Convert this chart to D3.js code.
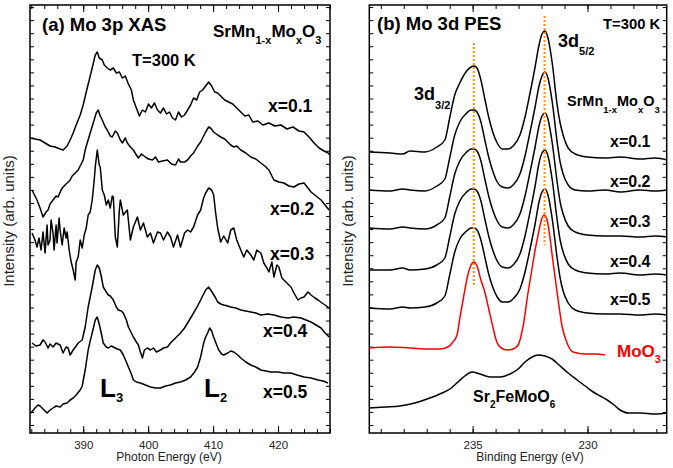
<!DOCTYPE html>
<html>
<head>
<meta charset="utf-8">
<script src="https://cdn.jsdelivr.net/npm/d3@7"></script>
<style>
  html, body { margin: 0; padding: 0; background: #fff; }
  svg { display: block; font-family: "Liberation Sans", Arial, Helvetica, sans-serif; }
</style>
</head>
<body>
<svg id="chart" width="673" height="468"></svg>
<script>
// ---------- (a) Mo 3p XAS: [photon energy (eV), intensity (arb. units)] ----------
const xasX01 = [[381.80,295],[382.57,294],[383.35,293],[384.12,290],[384.89,287],[385.66,286],[386.44,284],[386.90,283],[387.52,287],[387.98,293],[388.45,300],[388.91,308],[389.53,318],[389.99,328],[390.46,341],[390.92,353],[391.38,365],[391.85,378],[392.16,381],[392.46,375],[392.93,373],[393.24,368],[393.70,365],[394.16,363],[394.63,365],[395.09,360],[395.56,361],[396.02,355],[396.48,357],[396.95,349],[397.41,343],[397.72,333],[398.18,325],[398.65,317],[399.11,323],[399.57,321],[400.04,329],[400.50,325],[400.97,330],[401.43,323],[401.89,320],[402.36,325],[402.82,319],[403.28,321],[403.75,315],[404.21,313],[404.67,321],[405.14,316],[405.60,318],[406.07,323],[406.53,328],[406.99,335],[407.46,333],[407.92,341],[408.38,343],[408.85,347],[409.31,351],[409.78,347],[410.24,341],[410.70,340],[411.17,337],[411.78,333],[412.40,331],[413.02,329],[413.64,325],[414.26,321],[414.88,317],[415.49,318],[416.11,311],[416.89,312],[417.66,308],[418.59,310],[419.51,307],[420.44,308],[421.37,304],[422.29,306],[423.22,302],[424.00,301],[424.77,296],[425.54,290],[426.32,285],[427.09,282],[427.70,280],[428.00,278]];

const xasX02 = [[382.11,243],[382.88,233],[383.35,225],[383.81,216],[384.27,221],[384.58,223],[384.89,229],[385.35,233],[385.82,237],[386.13,236],[386.59,243],[386.90,246],[387.36,249],[387.98,253],[388.29,257],[388.76,260],[389.22,263],[389.53,267],[389.99,273],[390.30,283],[390.61,290],[391.07,300],[391.54,310],[392.00,320],[392.31,323],[392.62,317],[392.93,313],[393.39,306],[393.70,303],[394.16,297],[394.47,296],[394.94,302],[395.25,300],[395.71,293],[396.02,290],[396.48,295],[396.79,290],[397.26,286],[397.72,283],[398.18,278],[398.49,275],[398.96,279],[399.57,276],[400.04,274],[400.66,273],[401.12,276],[401.58,271],[402.20,272],[402.97,273],[403.59,269],[404.21,268],[404.67,274],[404.98,271],[405.60,271],[406.07,273],[406.53,277],[406.99,280],[407.61,287],[408.08,291],[408.54,297],[408.85,301],[409.31,306],[409.62,305],[410.08,301],[410.70,298],[411.17,296],[411.78,294],[412.25,291],[412.71,288],[413.18,286],[413.64,287],[414.26,283],[415.03,280],[415.80,276],[416.58,274],[417.35,270],[417.97,267],[418.59,263],[419.05,257],[419.36,253],[420.13,251],[420.90,250],[421.68,247],[422.45,246],[423.22,249],[424.00,250],[424.61,245],[425.08,241],[425.85,237],[426.62,233],[427.24,228],[427.86,223]];

const xasX03 = [[382.11,200],[382.57,193],[382.88,186],[383.19,195],[383.50,183],[383.81,201],[384.12,180],[384.43,208],[384.58,188],[384.89,193],[385.05,213],[385.35,200],[385.51,183],[385.82,208],[385.97,190],[386.28,215],[386.44,203],[386.75,188],[387.06,205],[387.36,195],[387.52,201],[387.83,183],[388.14,171],[388.45,163],[388.76,153],[388.91,171],[389.22,176],[389.53,193],[389.84,185],[390.15,198],[390.46,205],[390.76,218],[391.07,221],[391.38,233],[391.69,253],[391.85,266],[392.16,283],[392.46,268],[392.62,266],[392.93,243],[393.24,238],[393.55,228],[393.86,233],[394.16,225],[394.47,237],[394.63,236],[394.94,196],[395.25,186],[395.56,223],[395.71,233],[396.17,218],[396.79,223],[397.26,193],[397.72,206],[398.34,216],[398.80,203],[399.27,210],[399.88,196],[400.35,200],[400.81,190],[401.43,201],[401.89,200],[402.36,193],[402.97,201],[403.44,196],[403.90,186],[404.52,198],[404.98,186],[405.60,200],[406.07,203],[406.53,201],[406.99,206],[407.61,218],[408.08,223],[408.54,235],[408.85,240],[409.31,245],[409.78,243],[410.08,238],[410.39,220],[410.70,205],[411.17,191],[411.63,197],[412.25,190],[412.71,203],[413.18,205],[413.64,193],[414.26,183],[414.72,176],[415.18,183],[415.80,178],[416.27,173],[416.73,183],[417.35,180],[417.81,170],[418.28,165],[418.59,161],[419.05,171],[419.36,156],[419.82,168],[420.13,166],[420.59,155],[420.90,153],[421.52,149],[421.99,146],[422.45,140],[423.07,133],[423.53,135],[424.00,136],[424.61,141],[425.08,138],[425.69,135],[426.16,133],[426.78,130],[427.24,128],[427.86,125]];

const xasX04 = [[382.11,90],[382.73,87],[383.35,88],[383.81,93],[384.12,91],[384.58,85],[384.89,89],[385.35,86],[385.82,90],[386.44,88],[386.90,80],[387.36,86],[387.67,85],[387.98,78],[388.45,83],[388.91,87],[389.22,90],[389.84,93],[390.30,106],[390.76,126],[391.07,136],[391.38,146],[391.85,163],[392.16,168],[392.46,165],[392.77,157],[393.08,146],[393.55,141],[393.86,138],[394.16,137],[394.63,133],[395.09,126],[395.40,123],[395.87,122],[396.17,120],[396.64,113],[396.95,106],[397.41,100],[397.72,96],[398.18,91],[398.49,88],[398.80,81],[399.11,75],[399.42,83],[399.88,85],[400.35,83],[400.81,85],[401.27,81],[401.89,83],[402.36,85],[402.97,86],[403.44,90],[403.90,93],[404.52,97],[404.98,100],[405.60,105],[406.07,110],[406.53,115],[406.99,120],[407.61,127],[408.08,133],[408.54,139],[408.85,143],[409.31,146],[409.62,143],[409.93,140],[410.39,135],[410.70,131],[411.17,129],[411.63,128],[412.25,127],[412.71,126],[413.49,125],[414.26,123],[415.03,122],[415.80,121],[416.58,120],[417.35,118],[418.43,119],[419.36,118],[420.44,116],[421.52,115],[422.45,116],[423.53,115],[424.30,113],[425.08,111],[425.85,108],[426.62,105],[427.24,100],[427.86,96]];

const xasX05 = [[381.95,20],[382.57,25],[383.04,28],[383.35,27],[383.96,23],[384.43,20],[384.89,23],[385.35,25],[385.82,27],[386.44,26],[386.90,29],[387.52,30],[387.98,33],[388.45,35],[388.91,38],[389.53,43],[389.84,47],[390.30,63],[390.76,83],[391.07,92],[391.38,100],[391.85,113],[392.16,116],[392.46,109],[392.77,100],[393.08,90],[393.55,86],[393.86,85],[394.32,87],[394.63,86],[395.25,84],[395.71,83],[396.17,78],[396.64,71],[396.95,66],[397.41,59],[397.72,53],[398.18,51],[398.80,50],[399.57,48],[400.35,46],[401.12,45],[401.89,45],[402.66,47],[403.44,48],[404.21,50],[404.98,51],[405.76,53],[406.53,56],[407.15,61],[407.61,66],[408.08,76],[408.54,90],[408.85,96],[409.16,100],[409.47,105],[409.78,102],[410.08,96],[410.55,88],[410.86,83],[411.32,79],[411.63,78],[412.25,80],[412.71,82],[413.18,81],[413.80,78],[414.26,75],[415.03,71],[415.80,68],[416.58,66],[417.35,63],[418.12,62],[418.89,61],[419.98,61],[420.90,60],[421.99,60],[422.91,58],[424.00,56],[425.08,55],[426.16,53],[426.93,52],[427.70,50]];

const xasSeries = [xasX01, xasX02, xasX03, xasX04, xasX05];
const xasLabels = ["x=0.1", "x=0.2", "x=0.3", "x=0.4", "x=0.5"];

// ---------- (b) Mo 3d PES: binding energy (eV) and intensities (arb. units) ----------
const pesEnergy = [239.52,238.60,238.04,237.73,237.08,236.56,236.21,236.00,235.78,235.56,235.26,235.07,234.94,234.81,234.64,234.46,234.29,234.11,233.93,233.71,233.46,233.20,232.94,232.72,232.50,232.28,232.11,231.98,231.85,231.72,231.54,231.32,231.19,231.06,230.84,230.53,230.01,229.23,228.58,227.71,227.05,226.53];
const pesX01 = [281,280,279,282,281,286,293,315,338,350,362,366,367,365,353,333,315,300,290,284,284,288,298,316,340,366,388,399,402,395,371,328,310,298,285,279,276,275,276,274,275,273];
const pesX02 = [243,242,244,243,242,247,254,275,298,311,320,323,323,321,311,292,275,261,251,246,245,249,259,277,301,326,347,357,361,355,332,291,271,259,248,243,242,243,241,243,242,243];
const pesX03 = [205,204,206,205,204,208,215,236,259,272,281,284,284,282,272,253,236,222,212,206,205,209,219,237,261,286,307,317,320,314,291,251,231,219,207,201,198,197,197,196,197,196];
const pesX04 = [163,163,165,163,164,168,175,196,219,232,241,244,244,242,232,213,196,182,172,166,165,169,179,197,221,247,270,280,283,277,254,213,193,181,169,163,160,159,160,158,159,158];
const pesX05 = [125,124,126,125,126,130,137,158,181,194,202,205,205,203,193,175,158,145,136,131,131,135,144,161,184,209,231,241,244,238,215,175,155,142,130,123,120,119,119,118,119,118];
const pesSeries = [pesX01, pesX02, pesX03, pesX04, pesX05];
const pesLabels = ["x=0.1", "x=0.2", "x=0.3", "x=0.4", "x=0.5"];

const moo3Energy = [239.52,238.60,237.73,236.86,236.43,236.08,235.86,235.68,235.55,235.38,235.21,235.07,234.94,234.81,234.64,234.46,234.29,234.16,233.93,233.68,233.46,233.24,233.02,232.81,232.59,232.41,232.28,232.15,232.02,231.89,231.76,231.63,231.54,231.32,231.10,230.89,230.63,230.10,229.67,229.23];
const moo3Intensity = [85,86,85,84,84,86,91,98,116,138,158,168,171,167,153,140,123,110,90,84,83,84,88,106,140,165,183,198,212,218,213,195,178,140,106,90,81,79,79,78];

const sfmoEnergy = [239.52,238.82,238.17,237.52,236.86,236.43,235.99,235.64,235.34,235.03,234.68,234.25,233.81,233.37,233.02,232.72,232.41,232.15,231.85,231.54,231.19,230.84,230.45,230.10,229.75,229.45,229.14,228.84,228.58,228.23,227.71,227.05,226.53];
const sfmoIntensity = [25,26,27,30,35,39,44,51,57,61,59,56,56,59,64,71,76,78,77,74,67,60,53,47,41,37,33,28,23,20,20,19,20];

// Peak positions of Mo 3d3/2 and 3d5/2 with the intensity span of each guide line
const peakEnergy = [234.95, 231.87];
const peakGuideSpan = [[390, 148], [417, 188]];

// Axis ticks
const xasMajorTicks = [390, 400, 410, 420];
const xasMinorTicks = d3.range(382, 429, 2);
const pesMajorTicks = [235, 230];
const pesMinorTicks = d3.range(227, 240, 1);
const intensityTicks = d3.range(8, 428, 13.06);

// ---------- layout ----------
const svg = d3.select("#chart");
const frameTop = 5, frameBottom = 433;
const yScale = d3.scaleLinear().domain([0, 428]).range([frameBottom, frameTop]);
const xasX = d3.scaleLinear().domain([381.8, 428]).range([30, 330]);
const pesX = d3.scaleLinear().domain([239.5, 226.55]).range([369.3, 666.7]);

const defs = svg.append("defs");

function drawFrame(x, id, majors, minors, xTitle, xTitleX) {
  const [x0, x1] = x.range();
  defs.append("clipPath").attr("id", id).append("rect")
    .attr("x", x0).attr("y", frameTop).attr("width", x1 - x0).attr("height", frameBottom - frameTop);

  const g = svg.append("g");
  const strip = sel => { sel.select(".domain").remove(); sel.selectAll(".tick line").attr("stroke", "#000").attr("stroke-width", 1); };

  g.append("g").attr("transform", `translate(0,${frameBottom})`)
    .call(d3.axisBottom(x).tickValues(minors).tickSize(-4).tickFormat("")).call(strip);
  const bottomMajor = g.append("g").attr("transform", `translate(0,${frameBottom})`)
    .call(d3.axisBottom(x).tickValues(majors).tickSize(-7).tickPadding(8).tickFormat(d3.format("d"))).call(strip);
  bottomMajor.attr("font-size", 11.5).attr("font-family", null);
  bottomMajor.selectAll("text").attr("fill", "#222");

  g.append("g").attr("transform", `translate(0,${frameTop})`)
    .call(d3.axisTop(x).tickValues(minors).tickSize(-4).tickFormat("")).call(strip);
  g.append("g").attr("transform", `translate(0,${frameTop})`)
    .call(d3.axisTop(x).tickValues(majors).tickSize(-7).tickFormat("")).call(strip);

  g.append("g").attr("transform", `translate(${x0},0)`)
    .call(d3.axisLeft(yScale).tickValues(intensityTicks).tickSize(-4).tickFormat("")).call(strip);
  g.append("g").attr("transform", `translate(${x1},0)`)
    .call(d3.axisRight(yScale).tickValues(intensityTicks).tickSize(-4).tickFormat("")).call(strip);

  g.append("rect").attr("x", x0).attr("y", frameTop).attr("width", x1 - x0).attr("height", frameBottom - frameTop)
    .attr("fill", "none").attr("stroke", "#000").attr("stroke-width", 1.5);

  g.append("text").attr("x", xTitleX).attr("y", 461).attr("text-anchor", "middle")
    .attr("font-size", 12).attr("fill", "#222").text(xTitle);
  g.append("text")
    .attr("transform", `translate(${x0 - 16},${(frameTop + frameBottom) / 2 + 2}) rotate(-90)`)
    .attr("text-anchor", "middle").attr("font-size", 15).attr("fill", "#222")
    .text("Intensity (arb. units)");
  return g;
}

// Bold label with optional subscripts: parts = [[text, isSub], ...]
function label(x, y, parts, size, subSize, drop, color) {
  const t = svg.append("text").attr("x", x).attr("y", y)
    .attr("font-size", size).attr("font-weight", "bold").attr("fill", color || "#000");
  let shifted = 0;
  parts.forEach(([s, sub]) => {
    const ts = t.append("tspan").text(s);
    if (sub) { ts.attr("font-size", subSize).attr("dy", drop - shifted); shifted = drop; }
    else if (shifted) { ts.attr("dy", -shifted); shifted = 0; }
  });
  return t;
}

// ---------- panel (a) ----------
drawFrame(xasX, "clipA", xasMajorTicks, xasMinorTicks, "Photon Energy (eV)", 169);
const xasLine = d3.line().x(d => xasX(d[0])).y(d => yScale(d[1]));
svg.append("g").attr("clip-path", "url(#clipA)")
  .selectAll("path").data(xasSeries).join("path")
  .attr("d", xasLine).attr("fill", "none").attr("stroke", "#000")
  .attr("stroke-width", 1.5).attr("stroke-linejoin", "round");

label(42, 31, [["(a) Mo 3p XAS"]], 18.5);
label(213, 37, [["SrMn"], ["1-x", 1], ["Mo"], ["x", 1], ["O"], ["3", 1]], 17, 11, 7);
label(132, 66, [["T=300 K"]], 16.5);
const xasLabelPos = [[268, 112], [270, 215], [270, 260], [263, 337], [263, 398]];
xasLabels.forEach((s, i) => label(xasLabelPos[i][0], xasLabelPos[i][1], [[s]], 17.5));
label(100, 397, [["L"], ["3", 1]], 26, 13, 5);
label(204, 397, [["L"], ["2", 1]], 26, 13, 5);

// ---------- panel (b) ----------
drawFrame(pesX, "clipB", pesMajorTicks, pesMinorTicks, "Binding Energy (eV)", 530);
const pesLine = d3.line().x(d => pesX(d[0])).y(d => yScale(d[1])).curve(d3.curveMonotoneX);
const plotB = svg.append("g").attr("clip-path", "url(#clipB)");
pesSeries.forEach(vals => {
  plotB.append("path").datum(pesEnergy.map((e, i) => [e, vals[i]]))
    .attr("d", pesLine).attr("fill", "none").attr("stroke", "#000").attr("stroke-width", 1.5);
});
plotB.append("path").datum(moo3Energy.map((e, i) => [e, moo3Intensity[i]]))
  .attr("d", pesLine).attr("fill", "none").attr("stroke", "#ff0000").attr("stroke-width", 1.5);
plotB.append("path").datum(sfmoEnergy.map((e, i) => [e, sfmoIntensity[i]]))
  .attr("d", pesLine).attr("fill", "none").attr("stroke", "#000").attr("stroke-width", 1.5);

// dotted guides through the peak maxima
plotB.selectAll("line.guide").data(peakEnergy).join("line").attr("class", "guide")
  .attr("x1", d => pesX(d)).attr("x2", d => pesX(d))
  .attr("y1", (d, i) => yScale(peakGuideSpan[i][0])).attr("y2", (d, i) => yScale(peakGuideSpan[i][1]))
  .attr("stroke", "#ff8c1a").attr("stroke-width", 2).attr("stroke-dasharray", "2,2");

label(377, 30, [["(b) Mo 3d PES"]], 18.5);
label(603, 29, [["T=300 K"]], 14.8);
label(558, 47, [["3d"], ["5/2", 1]], 18, 11, 8);
label(414, 100, [["3d"], ["3/2", 1]], 18, 11, 9);
label(567, 106, [["SrMn"], ["1-x", 1], ["Mo"], ["x", 1], ["O"], ["3", 1]], 14.5, 9.5, 7);
const pesLabelY = [147, 187, 227, 267, 305];
pesLabels.forEach((s, i) => label(610, pesLabelY[i], [[s]], 16));
label(617, 357, [["MoO"], ["3", 1]], 17, 11, 6, "#ff0000");
label(473, 402, [["Sr"], ["2", 1], ["FeMoO"], ["6", 1]], 16, 10, 6);
</script>
</body>
</html>
